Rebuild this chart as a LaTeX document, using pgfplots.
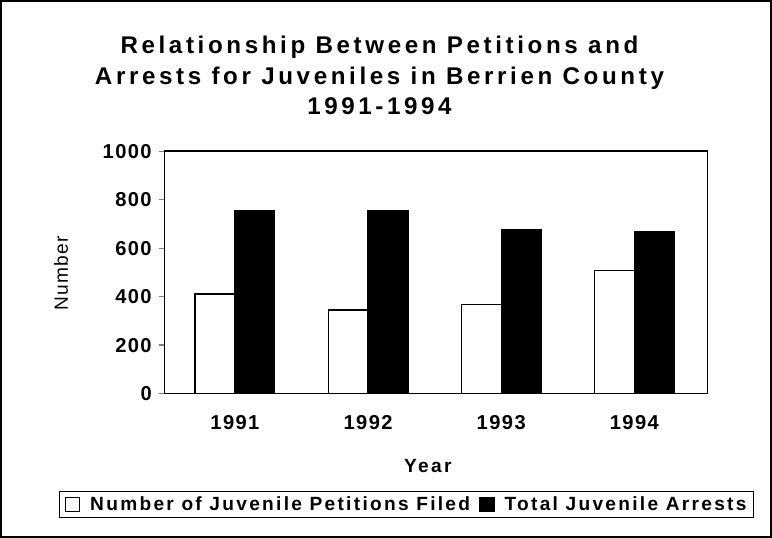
\documentclass[border=0pt]{standalone}
\usepackage{fontspec}
\setmainfont{Liberation Sans}
\newfontfamily\ttlfont[LetterSpace=15]{Liberation Sans}
\newfontfamily\lblfont[LetterSpace=7]{Liberation Sans}
\newfontfamily\legfont[LetterSpace=12]{Liberation Sans}
\usepackage{pgfplots}
\pgfplotsset{compat=1.18}

\begin{document}
\begin{tikzpicture}
\begin{axis}[
  scale only axis,
  width=538bp, height=240bp,
  ybar, bar width=0.3,
  xmin=0.47, xmax=4.55,
  ymin=0, ymax=1000,
  ytick={0,200,...,1000},
  ytick pos=left,
  xtick={1,2,3,4},
  xticklabels={1991,1992,1993,1994},
  axis line style={line width=1.6bp},
  x tick style={draw=none},
  y tick style={line width=1.2bp},
  tick align=outside,
  major tick length=5bp,
  /pgf/number format/assume math mode=true,
  /pgf/number format/1000 sep={},
  tick label style={font=\fontsize{20}{22}\selectfont\lblfont\bfseries},
  xticklabel style={yshift=-13bp},
  yticklabel style={xshift=-4bp},
  title={Relationship Between Petitions and\\Arrests for Juveniles in Berrien County\\1991-1994},
  title style={at={(axis description cs:0.396,1.288)}, anchor=center, align=center,
    font=\fontsize{24}{30}\selectfont\ttlfont\bfseries},
  xlabel={Year},
  xlabel style={at={(axis description cs:0.485,-0.3)}, anchor=center,
    font=\fontsize{19}{20}\selectfont\legfont\bfseries},
  ylabel={Number},
  ylabel style={at={(axis description cs:-0.19,0.496)}, anchor=center,
    font=\fontsize{19}{20}\selectfont\lblfont},
  legend columns=2,
  legend style={at={(axis description cs:0.446,-0.458)}, anchor=center,
    draw=black, line width=1.2bp, inner xsep=5bp, inner ysep=3bp,
    font=\fontsize{19}{20}\selectfont\legfont\bfseries,
    /tikz/every even column/.append style={column sep=7bp}},
  legend image code/.code={\draw[#1, line width=1.3bp] (0bp,-7bp) rectangle (14bp,7bp);
    \path (22bp,0bp);},
]
\addplot[draw=black, fill=white, line width=1.2bp, bar shift=-0.15] coordinates {
  (1,411) (2,345) (3,367) (4,508)
};
\addplot[draw=black, fill=black, line width=1.2bp, bar shift=0.15] coordinates {
  (1,755) (2,755) (3,676) (4,670)
};
\legend{Number of Juvenile Petitions Filed, Total Juvenile Arrests}
\end{axis}
\draw[line width=1.5bp] (-162bp,-142bp) rectangle (601bp,389bp);
\end{tikzpicture}
\end{document}
